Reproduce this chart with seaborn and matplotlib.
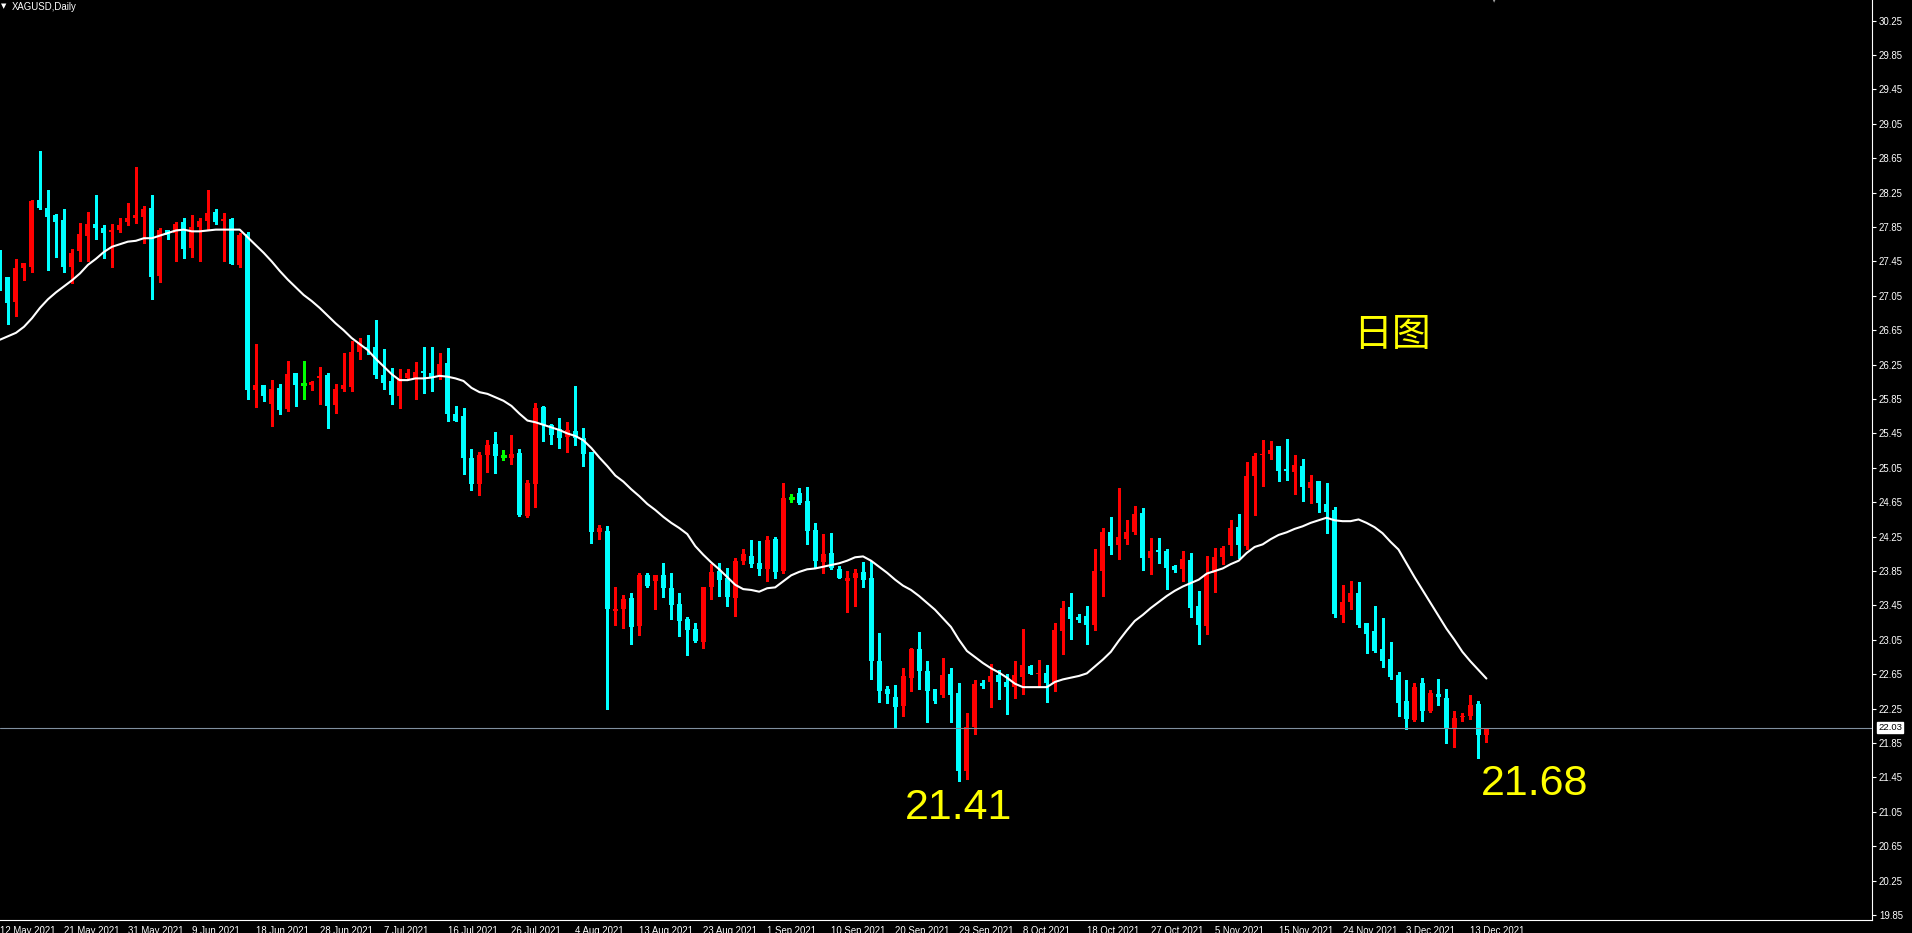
import numpy as np
import pandas as pd
import seaborn as sns
import matplotlib
matplotlib.use('Agg')
import matplotlib.pyplot as plt
import matplotlib.transforms as mtransforms

# XAGUSD daily candles, 12 May 2021 - 15 Dec 2021 (broker feed has Sunday bars)
opens = [27.50, 27.27, 26.98, 27.37, 27.39, 28.16, 28.07, 27.99, 27.93, 27.38,
         27.57, 27.75, 27.89, 27.84, 27.79, 27.81, 27.91, 27.96, 27.97, 28.07,
         27.28, 27.82, 27.78, 27.91, 27.61, 27.85, 27.92, 28.03, 27.92, 27.94,
         27.41, 27.77, 25.96, 26.01, 25.79, 25.98, 25.74, 26.15, 26.03, 26.01,
         26.10, 26.13, 25.78, 25.97, 25.99, 26.40, 26.46, 26.46, 26.13, 26.06,
         25.89, 26.10, 26.09, 26.18, 26.15, 26.13, 26.27, 25.68, 25.65, 25.17,
         24.86, 25.20, 25.33, 25.19, 25.17, 25.22, 24.49, 24.86, 25.76, 25.55,
         25.50, 25.41, 25.48, 25.40, 25.23, 24.30, 24.32, 23.39, 23.41, 23.54,
         23.21, 23.80, 23.73, 23.80, 23.65, 23.47, 23.29, 23.18, 23.02, 23.66,
         23.85, 23.77, 23.54, 23.97, 24.02, 23.94, 23.87, 24.22, 23.85, 24.70,
         24.76, 24.66, 24.33, 23.96, 24.06, 23.87, 23.74, 23.77, 23.84, 23.77,
         22.80, 22.48, 22.38, 22.28, 22.61, 22.94, 22.69, 22.48, 22.41, 22.65,
         22.43, 21.52, 22.04, 22.55, 22.56, 22.64, 22.56, 22.50, 22.62, 22.75,
         22.65, 22.67, 22.54, 23.15, 23.43, 23.32, 23.33, 23.22, 23.85, 24.30,
         24.15, 24.22, 24.30, 24.53, 24.00, 24.09, 24.08, 23.91, 23.87, 23.98,
         23.44, 23.21, 23.83, 24.01, 24.15, 24.36, 24.14, 24.95, 25.20, 25.21,
         25.30, 25.04, 25.00, 25.07, 24.82, 24.90, 24.63, 24.56, 23.34, 23.49,
         23.59, 23.25, 23.15, 22.94, 22.83, 22.64, 22.34, 22.12, 22.55, 22.22,
         22.42, 22.37, 22.01, 22.15, 22.17, 22.30, 21.94]
highs = [27.58, 27.27, 27.48, 27.43, 28.17, 28.73, 28.28, 28.00, 28.06, 27.59,
         27.90, 28.02, 28.22, 27.87, 27.89, 27.96, 28.13, 28.55, 28.10, 28.22,
         27.84, 27.82, 27.91, 27.96, 27.99, 27.95, 28.28, 28.06, 28.01, 27.95,
         27.78, 27.79, 26.49, 26.01, 26.07, 26.02, 26.29, 26.15, 26.29, 26.06,
         26.22, 26.15, 26.02, 26.38, 26.52, 26.56, 26.60, 26.77, 26.43, 26.21,
         26.20, 26.20, 26.28, 26.45, 26.45, 26.38, 26.44, 25.77, 25.75, 25.27,
         25.23, 25.37, 25.47, 25.26, 25.43, 25.27, 24.91, 25.80, 25.77, 25.56,
         25.63, 25.58, 26.00, 25.51, 25.23, 24.39, 24.37, 23.66, 23.57, 23.59,
         23.83, 23.83, 23.80, 23.94, 23.83, 23.59, 23.32, 23.25, 23.66, 23.93,
         23.94, 23.89, 24.00, 24.11, 24.21, 24.20, 24.26, 24.25, 24.87, 24.75,
         24.82, 24.83, 24.41, 24.28, 24.29, 23.91, 23.85, 23.87, 23.95, 23.97,
         23.13, 22.51, 22.52, 22.72, 22.95, 23.14, 22.80, 22.48, 22.84, 22.72,
         22.55, 22.20, 22.58, 22.58, 22.77, 22.70, 22.65, 22.80, 23.18, 22.76,
         22.82, 22.76, 23.24, 23.50, 23.59, 23.35, 23.44, 24.11, 24.35, 24.48,
         24.82, 24.44, 24.61, 24.58, 24.23, 24.23, 24.11, 23.92, 24.08, 24.06,
         23.62, 24.02, 24.12, 24.14, 24.44, 24.51, 25.12, 25.22, 25.37, 25.36,
         25.30, 25.39, 25.20, 25.15, 24.97, 24.90, 24.87, 24.59, 23.69, 23.73,
         23.72, 23.25, 23.44, 23.30, 23.02, 22.68, 22.58, 22.55, 22.61, 22.47,
         22.59, 22.48, 22.22, 22.20, 22.41, 22.34, 22.03]
lows = [27.12, 26.72, 26.81, 27.23, 27.33, 28.06, 27.35, 27.50, 27.33, 27.20,
        27.45, 27.45, 27.71, 27.49, 27.38, 27.79, 27.87, 27.90, 27.67, 27.01,
        27.21, 27.71, 27.46, 27.49, 27.50, 27.45, 27.82, 27.88, 27.46, 27.42,
        27.38, 25.85, 25.76, 25.83, 25.54, 25.68, 25.71, 25.77, 25.85, 25.95,
        25.79, 25.51, 25.69, 25.94, 25.94, 26.32, 26.37, 26.10, 25.97, 25.79,
        25.75, 26.08, 25.85, 25.92, 25.94, 26.08, 25.59, 25.60, 24.98, 24.79,
        24.73, 25.00, 24.99, 25.14, 25.09, 24.49, 24.48, 24.59, 25.36, 25.33,
        25.28, 25.23, 25.31, 25.07, 24.18, 24.22, 22.25, 23.22, 23.19, 23.00,
        23.11, 23.66, 23.41, 23.55, 23.29, 23.09, 22.87, 23.02, 22.96, 23.52,
        23.56, 23.44, 23.33, 23.93, 23.90, 23.80, 23.74, 23.77, 23.83, 24.65,
        24.63, 24.16, 23.89, 23.83, 23.87, 23.77, 23.37, 23.44, 23.66, 22.59,
        22.33, 22.32, 22.02, 22.16, 22.45, 22.48, 22.09, 22.32, 22.38, 22.09,
        21.41, 21.43, 21.95, 22.49, 22.27, 22.36, 22.19, 22.37, 22.42, 22.65,
        22.50, 22.33, 22.45, 22.89, 23.06, 23.26, 23.00, 23.16, 23.56, 24.05,
        23.99, 24.17, 24.28, 23.86, 23.82, 23.94, 23.64, 23.84, 23.73, 23.32,
        23.00, 23.12, 23.61, 23.93, 24.04, 24.00, 24.11, 24.50, 24.84, 25.15,
        24.90, 24.91, 24.75, 24.66, 24.64, 24.54, 24.29, 23.32, 23.26, 23.41,
        23.20, 22.90, 22.91, 22.73, 22.59, 22.16, 22.01, 22.11, 22.11, 22.21,
        22.29, 21.85, 21.80, 22.11, 22.13, 21.68, 21.86]
closes = [27.27, 26.97, 27.37, 27.43, 28.15, 28.07, 27.97, 27.91, 27.39, 27.55,
          27.77, 27.89, 27.84, 27.78, 27.81, 27.87, 27.95, 27.99, 28.06, 27.27,
          27.82, 27.76, 27.89, 27.59, 27.85, 27.92, 28.01, 27.91, 27.94, 27.42,
          27.76, 25.95, 26.01, 25.88, 25.97, 25.72, 26.14, 26.01, 26.03, 26.05,
          26.12, 25.77, 25.97, 26.01, 26.40, 26.50, 26.44, 26.13, 26.04, 25.90,
          26.10, 26.15, 26.16, 26.15, 26.10, 26.26, 25.68, 25.60, 25.17, 24.86,
          25.20, 25.32, 25.19, 25.19, 25.21, 24.50, 24.87, 25.75, 25.55, 25.43,
          25.40, 25.49, 25.40, 25.21, 24.30, 24.35, 23.41, 23.41, 23.53, 23.20,
          23.80, 23.68, 23.80, 23.65, 23.45, 23.27, 23.16, 23.04, 23.66, 23.84,
          23.75, 23.55, 23.97, 24.05, 23.93, 23.87, 24.21, 23.84, 24.70, 24.70,
          24.64, 24.31, 23.97, 24.05, 23.88, 23.77, 23.77, 23.83, 23.75, 22.80,
          22.46, 22.42, 22.27, 22.63, 22.94, 22.69, 22.46, 22.34, 22.64, 22.41,
          21.52, 22.04, 22.54, 22.51, 22.63, 22.56, 22.50, 22.64, 22.76, 22.65,
          22.66, 22.55, 23.16, 23.42, 23.29, 23.28, 23.22, 23.85, 24.30, 24.14,
          24.24, 24.30, 24.51, 24.00, 24.08, 24.07, 23.89, 23.86, 23.99, 23.42,
          23.22, 23.82, 24.01, 24.12, 24.35, 24.15, 24.95, 25.19, 25.21, 25.26,
          25.01, 25.01, 25.08, 24.83, 24.89, 24.64, 24.54, 23.35, 23.49, 23.59,
          23.22, 23.12, 22.92, 22.80, 22.62, 22.32, 22.13, 22.50, 22.22, 22.43,
          22.38, 22.01, 22.14, 22.16, 22.29, 21.94, 22.03]
# moving average line as drawn on the chart
ma20 = [26.54, 26.58, 26.62, 26.69, 26.79, 26.91, 27.01, 27.09, 27.16, 27.23,
        27.31, 27.41, 27.48, 27.56, 27.62, 27.65, 27.68, 27.69, 27.72, 27.72,
        27.75, 27.78, 27.81, 27.82, 27.80, 27.80, 27.81, 27.82, 27.82, 27.82,
        27.82, 27.73, 27.64, 27.55, 27.45, 27.34, 27.24, 27.15, 27.06, 26.99,
        26.91, 26.82, 26.73, 26.65, 26.56, 26.49, 26.42, 26.32, 26.23, 26.14,
        26.07, 26.07, 26.09, 26.09, 26.10, 26.12, 26.11, 26.09, 26.06, 25.98,
        25.93, 25.91, 25.87, 25.83, 25.77, 25.68, 25.60, 25.58, 25.55, 25.52,
        25.49, 25.45, 25.42, 25.37, 25.28, 25.17, 25.07, 24.96, 24.89, 24.80,
        24.72, 24.63, 24.56, 24.48, 24.41, 24.35, 24.28, 24.14, 24.04, 23.95,
        23.87, 23.78, 23.69, 23.64, 23.63, 23.61, 23.65, 23.66, 23.73, 23.80,
        23.84, 23.87, 23.88, 23.90, 23.92, 23.94, 23.97, 24.01, 24.02, 23.97,
        23.90, 23.83, 23.75, 23.68, 23.63, 23.56, 23.48, 23.40, 23.30, 23.20,
        23.05, 22.92, 22.85, 22.78, 22.72, 22.67, 22.61, 22.54, 22.50, 22.50,
        22.50, 22.50, 22.56, 22.59, 22.61, 22.63, 22.66, 22.74, 22.82, 22.91,
        23.04, 23.16, 23.27, 23.34, 23.42, 23.49, 23.56, 23.62, 23.67, 23.71,
        23.75, 23.82, 23.85, 23.88, 23.93, 23.97, 24.06, 24.13, 24.16, 24.22,
        24.27, 24.30, 24.34, 24.37, 24.41, 24.44, 24.47, 24.44, 24.43, 24.43,
        24.45, 24.41, 24.36, 24.29, 24.19, 24.10, 23.94, 23.78, 23.63, 23.48,
        23.33, 23.18, 23.05, 22.91, 22.80, 22.70, 22.60]
tick_labels = ['12 May 2021', '21 May 2021', '31 May 2021', '9 Jun 2021', '18 Jun 2021',
               '28 Jun 2021', '7 Jul 2021', '16 Jul 2021', '26 Jul 2021', '4 Aug 2021',
               '13 Aug 2021', '23 Aug 2021', '1 Sep 2021', '10 Sep 2021', '20 Sep 2021',
               '29 Sep 2021', '8 Oct 2021', '18 Oct 2021', '27 Oct 2021', '5 Nov 2021',
               '15 Nov 2021', '24 Nov 2021', '3 Dec 2021', '13 Dec 2021']
price_ticks = [19.85, 20.25, 20.65, 21.05, 21.45, 21.85, 22.25, 22.65, 23.05, 23.45,
               23.85, 24.25, 24.65, 25.05, 25.45, 25.85, 26.25, 26.65, 27.05, 27.45,
               27.85, 28.25, 28.65, 29.05, 29.45, 29.85, 30.25]
bid = 22.03
title = 'XAGUSD,Daily'
note = '日图'

bar_dates = [d for d in pd.date_range('2021-05-12', '2021-12-15') if d.weekday() != 5]
df = pd.DataFrame({'date': bar_dates, 'open': opens, 'high': highs,
                   'low': lows, 'close': closes, 'ma': ma20})
df['bar'] = np.arange(len(df))

BULL = '#FF0000'
BEAR = '#00FFFF'
DOJI = '#00FF00'
FG = '#FFFFFF'

sns.set_style('dark', {'axes.facecolor': 'black', 'figure.facecolor': 'black'})
plt.rcParams['font.family'] = ['Liberation Sans', 'DejaVu Sans']

fig = plt.figure(figsize=(19.12, 9.33), dpi=100, facecolor='black')
ax = fig.add_axes([0, 13 / 933, 1872 / 1912, 920 / 933])
ax.set_facecolor('black')

# candles
body_w = 0.625
min_body = 0.012
up = df[df.close > df.open]
dn = df[df.close < df.open]
flat = df[df.close == df.open]

ax.vlines(up.bar, up.low, up.high, color=BULL, lw=0.75, antialiased=False)
ax.vlines(dn.bar, dn.low, dn.high, color=BEAR, lw=0.75, antialiased=False)
ax.vlines(flat.bar, flat.low, flat.high, color=DOJI, lw=0.75, antialiased=False)
ax.bar(up.bar, (up.close - up.open).clip(lower=min_body), bottom=up.open,
       width=body_w, color=BULL, linewidth=0, antialiased=False)
ax.bar(dn.bar, (dn.open - dn.close).clip(lower=min_body), bottom=dn.close,
       width=body_w, color=BEAR, linewidth=0, antialiased=False)
ax.hlines(flat.open, flat.bar - body_w / 2, flat.bar + body_w / 2,
          color=DOJI, lw=0.75, antialiased=False)

# moving average
sns.lineplot(x=df.bar, y=df.ma, color=FG, lw=1.5, ax=ax)

# bid line + price box
ax.axhline(bid, color='#8090A0', lw=0.8)
trans = mtransforms.blended_transform_factory(ax.transAxes, ax.transData)
ax.text(1.0 + 6 / 1872, bid, f'{bid:.2f}', transform=trans, ha='left', va='center',
        color='black', fontsize=6.8,
        bbox=dict(boxstyle='square,pad=0.15', facecolor='white', edgecolor='white'))

# axes
ax.set_xlim(0.25, 234.25)
ax.set_ylim(30.49 - 920 / 86, 30.49)
ax.set_xlabel('')
ax.set_ylabel('')
ax.grid(False)

label_dates = [f'{d.day} {d:%b %Y}' for d in df.date]
tick_pos = [label_dates.index(t) for t in tick_labels]
ax.set_xticks(tick_pos)
ax.set_xticklabels(tick_labels)
for lbl in ax.get_xticklabels():
    lbl.set_horizontalalignment('left')
ax.yaxis.tick_right()
ax.set_yticks(price_ticks)
ax.set_yticklabels([f'{p:.2f}' for p in price_ticks])
ax.tick_params(axis='y', direction='out', length=3, width=0.8, colors=FG,
               labelsize=6.9, pad=2)
ax.tick_params(axis='x', direction='out', length=4, width=0.8, colors=FG,
               labelsize=6.9, pad=0.5)
for side in ['top', 'left']:
    ax.spines[side].set_visible(False)
for side in ['right', 'bottom']:
    ax.spines[side].set_visible(True)
    ax.spines[side].set_color(FG)
    ax.spines[side].set_linewidth(0.8)

# annotations
lo1 = int(df.low.idxmin())
lo2 = int(df.low.iloc[150:].idxmin())
ax.text(lo1, df.low[lo1] - 0.32, f'{df.low[lo1]:.2f}', color='#FFFF00',
        fontsize=31, ha='center', va='center')
ax.text(lo2 + 7, df.low[lo2] - 0.31, f'{df.low[lo2]:.2f}', color='#FFFF00',
        fontsize=31, ha='center', va='center')
ax.text(0.7436, 0.636, note, transform=ax.transAxes, color='#FFFF00', fontsize=28,
        fontweight='light', ha='center', va='center',
        family=['Noto Sans CJK SC', 'DejaVu Sans'])

fig.text(1 / 1912, 1 - 6 / 933, '▼', color=FG, fontsize=5, ha='left', va='center',
         family='DejaVu Sans')
fig.text(12 / 1912, 1 - 6.5 / 933, title, color=FG, fontsize=6.9, ha='left', va='center')
# chart-shift marker at the top edge
fig.text(1494 / 1912, 1 - 1 / 933, '▼', color='#A0A0A0', fontsize=4, ha='center',
         va='center', family='DejaVu Sans')

fig.savefig('out.png', dpi=100, facecolor='black')
